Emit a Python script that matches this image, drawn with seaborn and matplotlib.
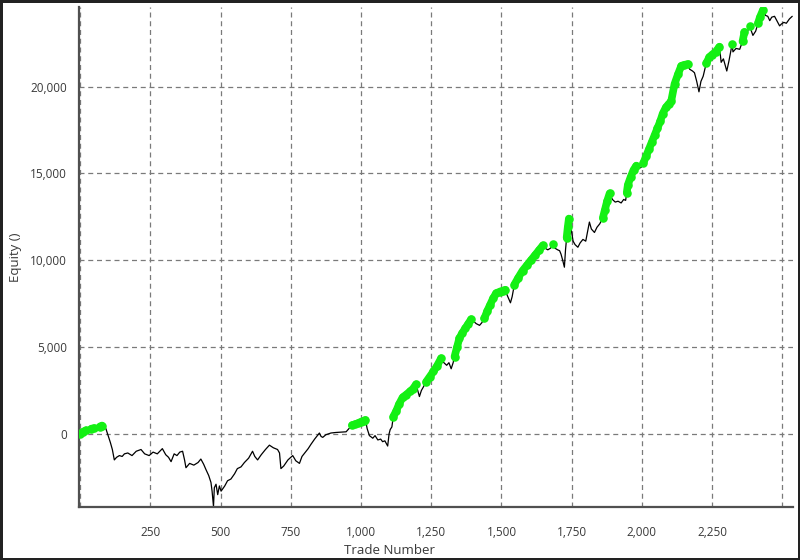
import numpy as np
import pandas as pd
import seaborn as sns
import matplotlib.pyplot as plt
from matplotlib.ticker import FuncFormatter

# equity curve vertices (trade number, equity)
trades = [
    0, 10, 20, 30, 40, 50, 60, 70, 78, 85, 92, 100, 108, 115, 122, 130, 140, 150,
    158, 170, 185, 200, 217, 230, 246, 260, 275, 293, 305, 315, 324, 335, 345, 355,
    365, 372, 377, 390, 405, 420, 430, 440, 448, 458, 466, 470, 475, 478, 484, 490,
    496, 502, 515, 525, 537, 550, 560, 573, 585, 600, 614, 622, 632, 645, 660, 674,
    688, 703, 710, 715, 725, 740, 757, 768, 781, 790, 800, 812, 822, 835, 845, 852,
    858, 864, 875, 893, 910, 930, 947, 960, 968, 980, 990, 1000, 1010, 1016, 1022,
    1030, 1042, 1050, 1060, 1070, 1077, 1085, 1095, 1100, 1104, 1110, 1115, 1125,
    1135, 1148, 1160, 1175, 1185, 1196, 1202, 1208, 1215, 1222, 1232, 1245, 1258,
    1270, 1285, 1295, 1305, 1313, 1321, 1328, 1333, 1342, 1350, 1360, 1372, 1382,
    1392, 1400, 1410, 1422, 1430, 1439, 1450, 1460, 1470, 1481, 1495, 1505, 1514,
    1520, 1528, 1532, 1538, 1546, 1560, 1575, 1590, 1605, 1620, 1635, 1647, 1655,
    1665, 1675, 1683, 1690, 1700, 1707, 1712, 1718, 1724, 1728, 1732, 1736, 1740,
    1744, 1748, 1755, 1762, 1772, 1780, 1790, 1800, 1806, 1813, 1820, 1831, 1840,
    1850, 1861, 1868, 1876, 1885, 1895, 1905, 1915, 1926, 1935, 1942, 1946, 1950,
    1960, 1970, 1980, 1990, 1997, 2005, 2015, 2025, 2035, 2045, 2055, 2065, 2074,
    2085, 2095, 2104, 2116, 2128, 2140, 2150, 2163, 2170, 2180, 2187, 2195, 2203,
    2210, 2218, 2229, 2240, 2250, 2262, 2276, 2282, 2290, 2302, 2310, 2321, 2324,
    2335, 2348, 2358, 2365, 2372, 2383, 2395, 2405, 2413, 2420, 2431, 2440, 2448,
    2455, 2462, 2472, 2480, 2490, 2496, 2505, 2514, 2525, 2535,
]
equity = [
    0, 120, 200, 180, 300, 330, 250, 420, 480, 380, 300, -100, -500, -900, -1500,
    -1350, -1250, -1300, -1150, -1100, -1250, -1000, -900, -1150, -1250, -1050,
    -1150, -850, -1200, -1350, -1600, -1150, -1250, -1050, -1000, -1500, -1950,
    -1700, -1800, -1650, -1450, -1750, -2050, -2400, -2800, -3300, -4180, -3100,
    -2900, -3500, -3000, -3300, -3000, -2700, -2600, -2300, -2000, -1900, -1650,
    -1400, -1000, -1300, -1500, -1200, -900, -650, -800, -900, -1100, -2000, -1850,
    -1500, -1250, -1550, -1700, -1300, -1100, -850, -600, -300, -100, 50, -150,
    -200, -50, 50, 80, 100, 120, 350, 500, 560, 620, 700, 760, 800, 300, -100,
    -250, -100, -350, -300, -450, -400, -700, 0, 250, 400, 1000, 1300, 1700, 2100,
    2250, 2450, 2600, 2850, 2500, 2150, 2500, 2700, 3000, 3300, 3600, 3900, 4350,
    4100, 3950, 4100, 3750, 4100, 4450, 5000, 5500, 5800, 6100, 6350, 6600, 6500,
    6350, 6250, 6400, 6650, 7100, 7450, 7800, 8100, 8200, 8250, 8300, 8000, 7700,
    7550, 7900, 8600, 9000, 9400, 9700, 10000, 10300, 10600, 10850, 10700, 10600,
    10700, 10950, 10700, 10600, 10550, 10350, 10000, 9600, 10600, 11300, 11900,
    12400, 11500, 11800, 11100, 10900, 10750, 11000, 11200, 11100, 11600, 12200,
    11800, 11600, 11900, 12100, 12450, 12900, 13400, 13850, 13500, 13350, 13400,
    13300, 13500, 13450, 13900, 14350, 14800, 15200, 15450, 15300, 15350, 15600,
    16000, 16400, 16800, 17200, 17600, 18000, 18450, 18800, 19000, 19150, 20150,
    20700, 21200, 21250, 21300, 21000, 20900, 20800, 20300, 19700, 20300, 20600,
    21350, 21700, 21850, 22000, 22300, 21400, 21600, 20900, 21500, 22450, 22000,
    22200, 22150, 22600, 23150, 23000, 23500, 22950, 23200, 23650, 24000, 24420,
    24100, 24050, 23800, 24000, 24050, 23800, 23500, 23600, 23700, 23650, 23900,
    24050,
]

x_ticks = [0, 250, 500, 750, 1000, 1250, 1500, 1750, 2000, 2250, 2500]
x_tick_labels = ["", "250", "500", "750", "1,000", "1,250", "1,500", "1,750",
                 "2,000", "2,250", ""]
y_ticks = [0, 5000, 10000, 15000, 20000]

df = pd.DataFrame({"trade": trades, "equity": equity})
# new equity highs are marked in green
df["high"] = df["equity"] >= df["equity"].cummax()
df["high_equity"] = df["equity"].where(df["high"])

sns.set_style("white")
plt.rcParams["font.family"] = ["Open Sans", "DejaVu Sans"]

fig = plt.figure(figsize=(8, 5.6), dpi=100)
fig.patch.set_edgecolor("#222222")
fig.patch.set_linewidth(2.5)
ax = fig.add_axes([0.099, 0.095, 0.892, 0.892])

ax.grid(True, color="#7a7a7a", linestyle=(0, (4, 3)), linewidth=0.9)
ax.set_axisbelow(True)

sns.lineplot(data=df, x="trade", y="equity", color="black", linewidth=0.9,
             sort=False, estimator=None, ax=ax, zorder=2)
green = "#14f014"
ax.plot(df["trade"], df["high_equity"], color=green, linewidth=5.5,
        solid_capstyle="round", zorder=3)
sns.scatterplot(data=df[df["high"]], x="trade", y="equity", color=green,
                s=38, linewidth=0, marker="o", ax=ax, zorder=4)

ax.set_xlim(-3, 2537)
ax.set_ylim(-4200, 24570)
ax.set_xticks(x_ticks)
ax.set_xticklabels(x_tick_labels)
ax.set_yticks(y_ticks)
ax.yaxis.set_major_formatter(FuncFormatter(lambda v, p: f"{int(v):,}"))

for side in ["top", "right"]:
    ax.spines[side].set_visible(False)
for side in ["left", "bottom"]:
    ax.spines[side].set_color("#505050")
    ax.spines[side].set_linewidth(1.6)

ax.tick_params(axis="both", direction="out", length=5, width=1.2,
               color="#505050", labelsize=8.5, labelcolor="#3a3a3a", pad=4)
ax.tick_params(axis="x", pad=9)

ax.set_xlabel("Trade Number", fontsize=9.5, color="#3a3a3a", labelpad=2)
ax.xaxis.set_label_coords(0.435, -0.075)
ax.set_ylabel("Equity ()", fontsize=9.5, color="#3a3a3a")
ax.yaxis.set_label_coords(-0.08, 0.5)

fig.savefig("out.png", dpi=100, edgecolor=fig.get_edgecolor())
